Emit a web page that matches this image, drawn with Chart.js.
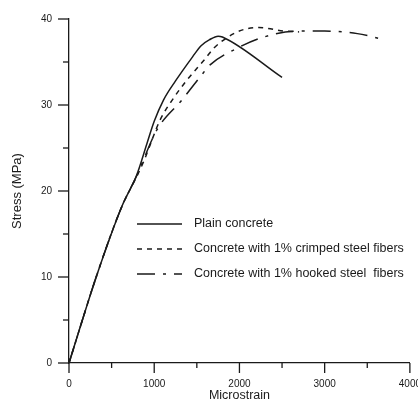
<!DOCTYPE html>
<html>
<head>
<meta charset="utf-8">
<script src="https://cdn.jsdelivr.net/npm/chart.js@4/dist/chart.umd.min.js"></script>
<style>
  html, body { margin: 0; padding: 0; background: #fff; overflow: hidden; }
  #wrap { width: 418px; height: 403px; overflow: hidden; }
</style>
</head>
<body>
<div id="wrap"><canvas id="stressChart" width="426" height="403"></canvas></div>
<script>
const plainStrain = [0, 326, 620, 796, 914, 1000, 1110, 1250, 1450, 1550, 1650, 1750, 1800, 2500];
const plainStress = [0, 10.2, 18.2, 21.9, 25.5, 28.1, 30.6, 32.8, 35.6, 36.9, 37.6, 38.0, 37.9, 33.2];

const crimpedStrain = [0, 326, 620, 796, 875, 1071, 1227, 1384, 1600, 1698, 1933, 2100, 2227, 2521, 2700];
const crimpedStress = [0, 10.2, 18.2, 21.7, 23.4, 28.3, 30.8, 32.9, 35.4, 36.6, 38.3, 38.9, 39.0, 38.6, 38.5];

const hookedStrain = [0, 326, 620, 796, 1031, 1326, 1541, 1659, 1973, 2286, 2678, 3000, 3384, 3659];
const hookedStress = [0, 10.2, 18.2, 21.8, 27.1, 30.6, 33.3, 34.7, 36.6, 37.9, 38.6, 38.6, 38.3, 37.7];

const seriesLabels = [
  "Plain concrete",
  "Concrete with 1% crimped steel fibers",
  "Concrete with 1% hooked steel  fibers"
];

const xTicks = [0, 1000, 2000, 3000, 4000];
const yTicks = [0, 10, 20, 30, 40];

const ink = "#1a1a1a";
const font = "'Liberation Sans', Arial, sans-serif";

function pts(xs, ys) {
  return xs.map((x, i) => ({ x: x, y: ys[i] }));
}

// minor + major tick marks, drawn outward
const tickMarks = {
  id: "tickMarks",
  afterDraw(chart) {
    const ctx = chart.ctx;
    const xs = chart.scales.x, ys = chart.scales.y;
    ctx.save();
    ctx.strokeStyle = ink;
    ctx.lineWidth = 1.3;
    for (let v = 0; v <= 4000; v += 500) {
      const px = xs.getPixelForValue(v);
      const len = v % 1000 === 0 ? 10 : 5;
      ctx.beginPath();
      ctx.moveTo(px, ys.bottom);
      ctx.lineTo(px, ys.bottom + len);
      ctx.stroke();
    }
    for (let v = 0; v <= 40; v += 5) {
      const py = ys.getPixelForValue(v);
      const len = v % 10 === 0 ? 11 : 6;
      ctx.beginPath();
      ctx.moveTo(xs.left, py);
      ctx.lineTo(xs.left - len, py);
      ctx.stroke();
    }
    ctx.restore();
  }
};

// legend drawn inside the plot
const innerLegend = {
  id: "innerLegend",
  afterDraw(chart) {
    const ctx = chart.ctx;
    ctx.save();
    chart.data.datasets.forEach((ds, i) => {
      const y = 224 + i * 25;
      ctx.strokeStyle = ds.borderColor;
      ctx.lineWidth = ds.borderWidth;
      ctx.setLineDash(ds.borderDash || []);
      ctx.beginPath();
      ctx.moveTo(137, y);
      ctx.lineTo(182, y);
      ctx.stroke();
      ctx.setLineDash([]);
      ctx.fillStyle = ink;
      ctx.font = "12.5px " + font;
      ctx.textBaseline = "middle";
      ctx.fillText(ds.label, 194, y);
    });
    ctx.restore();
  }
};

const ctx = document.getElementById("stressChart").getContext("2d");
new Chart(ctx, {
  type: "line",
  data: {
    datasets: [
      {
        label: seriesLabels[0],
        data: pts(plainStrain, plainStress),
        borderColor: ink,
        borderWidth: 1.5,
        pointRadius: 0,
        cubicInterpolationMode: "monotone",
        fill: false
      },
      {
        label: seriesLabels[1],
        data: pts(crimpedStrain, crimpedStress),
        borderColor: ink,
        borderWidth: 1.5,
        borderDash: [5, 5],
        pointRadius: 0,
        cubicInterpolationMode: "monotone",
        fill: false
      },
      {
        label: seriesLabels[2],
        data: pts(hookedStrain, hookedStress),
        borderColor: ink,
        borderWidth: 1.5,
        borderDash: [18, 8, 3, 8],
        pointRadius: 0,
        cubicInterpolationMode: "monotone",
        fill: false
      }
    ]
  },
  options: {
    responsive: false,
    animation: false,
    layout: { padding: { top: 19, right: 12, bottom: 0, left: 0 } },
    plugins: {
      legend: { display: false },
      tooltip: { enabled: false }
    },
    scales: {
      x: {
        type: "linear",
        min: 0,
        max: 4000,
        afterFit: (s) => { s.height = 40; },
        afterBuildTicks: (s) => { s.ticks = xTicks.map((v) => ({ value: v })); },
        grid: { display: false, drawTicks: true, tickLength: 10 },
        border: { display: true, color: ink, width: 1.3 },
        ticks: {
          color: ink,
          font: { family: font, size: 10 },
          padding: 5,
          maxRotation: 0,
          autoSkip: false,
          callback: (v) => String(v)
        },
        title: {
          display: true,
          text: "Microstrain",
          color: ink,
          font: { family: font, size: 12.5 },
          padding: { top: 0, bottom: 0 }
        }
      },
      y: {
        type: "linear",
        min: 0,
        max: 40,
        afterFit: (s) => { s.width = 69; },
        afterBuildTicks: (s) => { s.ticks = yTicks.map((v) => ({ value: v })); },
        grid: { display: false, drawTicks: true, tickLength: 10 },
        border: { display: true, color: ink, width: 1.3 },
        ticks: {
          color: ink,
          font: { family: font, size: 10 },
          padding: 7,
          callback: (v) => String(v)
        },
        title: {
          display: true,
          text: "Stress (MPa)",
          color: ink,
          font: { family: font, size: 13 },
          padding: { top: 10, bottom: 0 }
        }
      }
    }
  },
  plugins: [tickMarks, innerLegend]
});
</script>
</body>
</html>
